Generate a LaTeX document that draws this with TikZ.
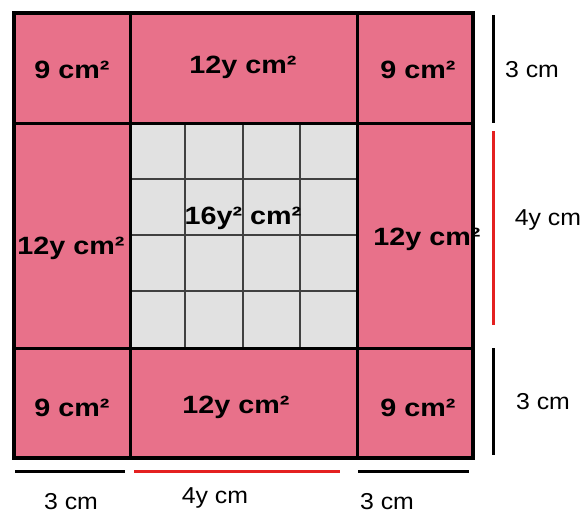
\documentclass[tikz,border=0pt]{standalone}
\usepackage{fontspec}
\setmainfont{Liberation Sans}
\newfontfamily\widesans[FakeStretch=1.15]{Liberation Sans}
\newfontfamily\dimsans[FakeStretch=1.08]{Liberation Sans}
\definecolor{cellpink}{HTML}{E8718A}
\definecolor{cellgrey}{HTML}{E1E1E1}
\definecolor{dimred}{HTML}{E42020}

\begin{document}
\begin{tikzpicture}[x=1pt, y=-1pt,
    area/.style={font=\widesans\fontsize{25}{27}\selectfont\bfseries},
    dimlabel/.style={font=\dimsans\fontsize{23}{25}\selectfont},
    dimline/.style={line width=3pt}]
  \useasboundingbox (0,0) rectangle (582,514);
  % pieces of the square
  \fill[cellpink] (14,13) rectangle (473,458);
  \fill[cellgrey] (130,123) rectangle (357,348);
  \foreach \gx in {185,243,300}
    \draw[line width=1.6pt, black!75] (\gx,123) -- (\gx,348);
  \foreach \gy in {179,235,291}
    \draw[line width=1.6pt, black!75] (130,\gy) -- (357,\gy);
  % areas
  \node[area] (tl) at (72,70) {9 cm²};
  \node[area] (tm) at (243,67) {12y cm²};
  \node[area] (tr) at (418,70) {9 cm²};
  \node[area] (ml) at (71,248) {12y cm²};
  \node[area] (mm) at (243,218) {16y² cm²};
  \node[area] (mr) at (427,239) {12y cm²};
  \node[area] (bl) at (72,408) {9 cm²};
  \node[area] (bm) at (236,407) {12y cm²};
  \node[area] (br) at (418,408) {9 cm²};
  % dividing lines and border
  \draw[line width=3pt] (130,13) -- (130,458);
  \draw[line width=3pt] (357,13) -- (357,458);
  \draw[line width=3pt] (14,123) -- (473,123);
  \draw[line width=3pt] (14,348) -- (473,348);
  \draw[line width=3.5pt] (14,13) rectangle (473,458);
  % side lengths, right
  \draw[dimline] (493,15) -- (493,123);
  \draw[dimline, dimred] (493,131) -- (493,325);
  \draw[dimline] (493,348) -- (493,455);
  \node[dimlabel] (r1) at (532,70) {3 cm};
  \node[dimlabel] (r2) at (548,220) {4y cm};
  \node[dimlabel] (r3) at (543,402) {3 cm};
  % side lengths, bottom
  \draw[dimline] (15,471) -- (125,471);
  \draw[dimline, dimred] (134,471) -- (340,471);
  \draw[dimline] (358,471) -- (469,471);
  \node[dimlabel] (b1) at (71,502) {3 cm};
  \node[dimlabel] (b2) at (215,498) {4y cm};
  \node[dimlabel] (b3) at (387,502) {3 cm};
\end{tikzpicture}
\end{document}
